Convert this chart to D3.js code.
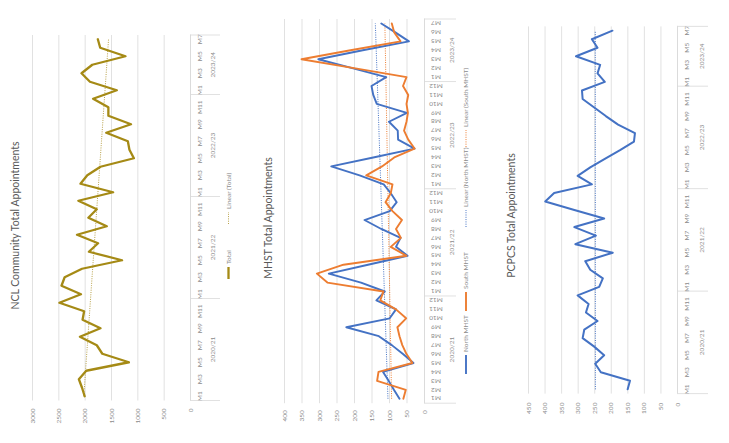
<!DOCTYPE html>
<html>
<head>
<meta charset="utf-8">
<script src="https://cdn.jsdelivr.net/npm/d3@7"></script>
<style>
  html, body { margin: 0; padding: 0; background: #fff; }
  svg { display: block; font-family: Lato, "Open Sans", sans-serif; }
</style>
</head>
<body>
<svg id="chart" width="729" height="443"></svg>
<script>
// Financial years and how many months of each are reported
const years = ["2020/21", "2021/22", "2022/23", "2023/24"];
const monthsPerYear = [12, 12, 12, 7];

// Monthly totals, M1 2020/21 .. M7 2023/24
const nclTotal = [2000, 2050, 2110, 1970, 1160, 1665, 1770, 2090, 1700, 2040, 2010, 2480,
                  2070, 2440, 2380, 2050, 1290, 1920, 1745, 2145, 1580, 1930, 1770, 2120,
                  1460, 2080, 1950, 1700, 1065, 1150, 1180, 1590, 1120, 1550, 1550, 1840,
                  1390, 1900, 2060, 1855, 1225, 1705, 1750];
const northMHST = [70, 86, 101, 117, 30, 60, 92, 129, 222, 98, 80, 136,
                   112, 180, 272, 160, 47, 80, 67, 122, 170, 98, 78, 95,
                   115, 184, 265, 145, 27, 74, 75, 100, 49, 135, 145, 150,
                   108, 205, 302, 175, 43, 82, 122];
const southMHST = [59, 52, 134, 130, 33, 50, 62, 70, 76, 51, 80, 125,
                   116, 276, 306, 230, 50, 95, 66, 80, 63, 90, 110, 95,
                   90, 165, 120, 85, 27, 45, 57, 50, 46, 50, 45, 60,
                   50, 200, 350, 210, 67, 85, 92];
const pcpcsTotal = [149, 142, 230, 247, 220, 250, 285, 280, 240, 275, 267, 300,
                    235, 224, 262, 277, 194, 307, 245, 310, 220, 310, 398, 371,
                    257, 300, 262, 218, 172, 130, 127, 178, 215, 250, 285, 287,
                    218, 240, 232, 305, 240, 257, 195];

// Value axis ticks
const nclTicks = [0, 500, 1000, 1500, 2000, 2500, 3000];
const mhstTicks = [0, 50, 100, 150, 200, 250, 300, 350, 400];
const pcpcsTicks = [0, 50, 100, 150, 200, 250, 300, 350, 400, 450];

// Two-level category list: month within financial year
const categories = [];
years.forEach((y, k) => {
  for (let m = 1; m <= monthsPerYear[k]; m++) categories.push({ year: y, month: "M" + m });
});

const GOLD = "#a58a15", GOLD_TREND = "#b9a24a";
const BLUE = "#4472c4", ORANGE = "#ed7d31";
const GRID = "#d9d9d9", LABEL = "#8c8c8c", TITLE = "#595959";
const SMALL = "6.5px";

const svg = d3.select("#chart");

function linearFit(values) {
  const n = values.length;
  const xs = d3.range(n);
  const mx = d3.mean(xs), my = d3.mean(values);
  let sxy = 0, sxx = 0;
  xs.forEach((x, i) => { sxy += (x - mx) * (values[i] - my); sxx += (x - mx) * (x - mx); });
  const b = sxy / sxx, a = my - b * mx;
  return xs.map(x => a + b * x);
}

// Each chart is laid out in its own frame (time along u, value along w)
// and the whole frame is turned a quarter turn anticlockwise.
function drawPanel(cfg) {
  const g = svg.append("g")
    .attr("transform", `translate(${cfg.x0},${cfg.y0}) rotate(-90)`);

  const band = d3.scaleBand().domain(d3.range(categories.length)).range([cfg.u0, cfg.u1]);
  const half = band.bandwidth() / 2;
  const vs = d3.scaleLinear().domain([0, cfg.max]).range([cfg.wZero, cfg.wMax]);

  // gridlines and value labels
  const va = g.append("g")
    .attr("transform", `translate(${cfg.u0},0)`)
    .call(d3.axisLeft(vs).tickValues(cfg.ticks).tickSize(-(cfg.u1 - cfg.u0))
      .tickPadding(cfg.valPad).tickFormat(d3.format("d")))
    .attr("font-family", null).attr("font-size", null);
  va.select(".domain").remove();
  va.selectAll(".tick line").attr("stroke", GRID).attr("stroke-width", 0.8);
  va.selectAll(".tick text").attr("fill", LABEL).style("font-size", SMALL);

  // category axis: month labels
  const shown = d3.range(categories.length).filter(i => cfg.allMonths || i % 2 === 0);
  const ca = g.append("g")
    .attr("transform", `translate(0,${cfg.wZero})`)
    .call(d3.axisBottom(band).tickValues(shown).tickSize(0).tickSizeOuter(0)
      .tickFormat(i => categories[i].month))
    .attr("font-family", null).attr("font-size", null);
  ca.select(".domain").attr("stroke", GRID).attr("stroke-width", 0.8);
  const mt = ca.selectAll(".tick text").attr("fill", LABEL).style("font-size", SMALL);
  if (cfg.flipMonths) {
    mt.attr("y", null).attr("dy", "0.35em")
      .attr("transform", `translate(0,${cfg.monthW - cfg.wZero}) rotate(-90)`);
  } else {
    mt.attr("y", cfg.monthW - cfg.wZero).attr("dy", "0.35em");
  }

  // year groups: separators and labels
  let start = 0;
  const bounds = [];
  monthsPerYear.forEach((n, k) => {
    bounds.push({ year: years[k], s: start, e: start + n });
    start += n;
  });
  const sepU = bounds.map(b => band(b.s)).concat([cfg.u1]);
  g.selectAll(".sep").data(sepU).join("line")
    .attr("x1", d => d).attr("x2", d => d)
    .attr("y1", cfg.wZero).attr("y2", cfg.sepEnd)
    .attr("stroke", GRID).attr("stroke-width", 0.8);
  g.selectAll(".yr").data(bounds).join("text")
    .attr("x", b => (band(b.s) + band(b.e - 1) + band.bandwidth()) / 2)
    .attr("y", cfg.yearW).attr("dy", "0.35em")
    .attr("text-anchor", "middle").attr("fill", LABEL).style("font-size", SMALL)
    .text(b => b.year);

  // trend lines first, then the series on top
  const line = d3.line().x((d, i) => band(i) + half).y(d => vs(d));
  cfg.series.forEach(s => {
    g.append("path").datum(linearFit(s.values))
      .attr("d", line).attr("fill", "none")
      .attr("stroke", s.trendColor).attr("stroke-width", 1)
      .attr("stroke-dasharray", "1,1.3");
  });
  cfg.series.forEach(s => {
    g.append("path").datum(s.values)
      .attr("d", line).attr("fill", "none")
      .attr("stroke", s.color).attr("stroke-width", s.width)
      .attr("stroke-linejoin", "round").attr("stroke-linecap", "round");
  });

  // title
  g.append("text")
    .attr("x", cfg.titleU).attr("y", cfg.titleW).attr("dy", "0.35em")
    .attr("text-anchor", "middle").attr("fill", TITLE).style("font-size", "10.5px")
    .text(cfg.title);

  // legend
  if (cfg.legend) {
    cfg.legend.items.forEach(it => {
      g.append("line")
        .attr("x1", it.u).attr("x2", it.u + it.len)
        .attr("y1", cfg.legend.w).attr("y2", cfg.legend.w)
        .attr("stroke", it.color).attr("stroke-width", it.dotted ? 1 : it.width)
        .attr("stroke-dasharray", it.dotted ? "1,1.3" : null);
      g.append("text")
        .attr("x", it.u + it.len + 3).attr("y", cfg.legend.w).attr("dy", "0.35em")
        .attr("fill", LABEL).style("font-size", SMALL).text(it.label);
    });
  }
}

drawPanel({
  x0: 0, y0: 443, u0: 42.5, u1: 408, wZero: 190, wMax: 32, max: 3000,
  ticks: nclTicks, valPad: 8, monthW: 200, yearW: 213, sepEnd: 220, allMonths: false,
  series: [{ values: nclTotal, color: GOLD, width: 2.3, trendColor: GOLD_TREND }],
  title: "NCL Community Total Appointments", titleU: 217.5, titleW: 15.5,
  legend: { w: 228.5, items: [
    { u: 164, len: 12, color: GOLD, width: 2.3, label: "Total" },
    { u: 219, len: 12, color: GOLD_TREND, dotted: true, label: "Linear (Total)" }
  ] }
});

drawPanel({
  x0: 243, y0: 443, u0: 39.8, u1: 424, wZero: 181, wMax: 41, max: 400,
  ticks: mhstTicks, valPad: 7, monthW: 193, yearW: 208.5, sepEnd: 213, allMonths: true, flipMonths: true,
  series: [
    { values: northMHST, color: BLUE, width: 1.9, trendColor: BLUE },
    { values: southMHST, color: ORANGE, width: 1.9, trendColor: ORANGE }
  ],
  title: "MHST Total Appointments", titleU: 225, titleW: 25.5,
  legend: { w: 223, items: [
    { u: 69, len: 19, color: BLUE, width: 1.9, label: "North MHST" },
    { u: 132, len: 19, color: ORANGE, width: 1.9, label: "South MHST" },
    { u: 216, len: 17, color: BLUE, dotted: true, label: "Linear (North MHST)" },
    { u: 296, len: 17, color: ORANGE, dotted: true, label: "Linear (South MHST)" }
  ] }
});

drawPanel({
  x0: 486, y0: 443, u0: 49.4, u1: 416.6, wZero: 191, wMax: 42, max: 450,
  ticks: pcpcsTicks, valPad: 9, monthW: 200.5, yearW: 215.5, sepEnd: 222, allMonths: false,
  series: [{ values: pcpcsTotal, color: BLUE, width: 2, trendColor: BLUE }],
  title: "PCPCS Total Appointments", titleU: 227.5, titleW: 25
});
</script>
</body>
</html>
